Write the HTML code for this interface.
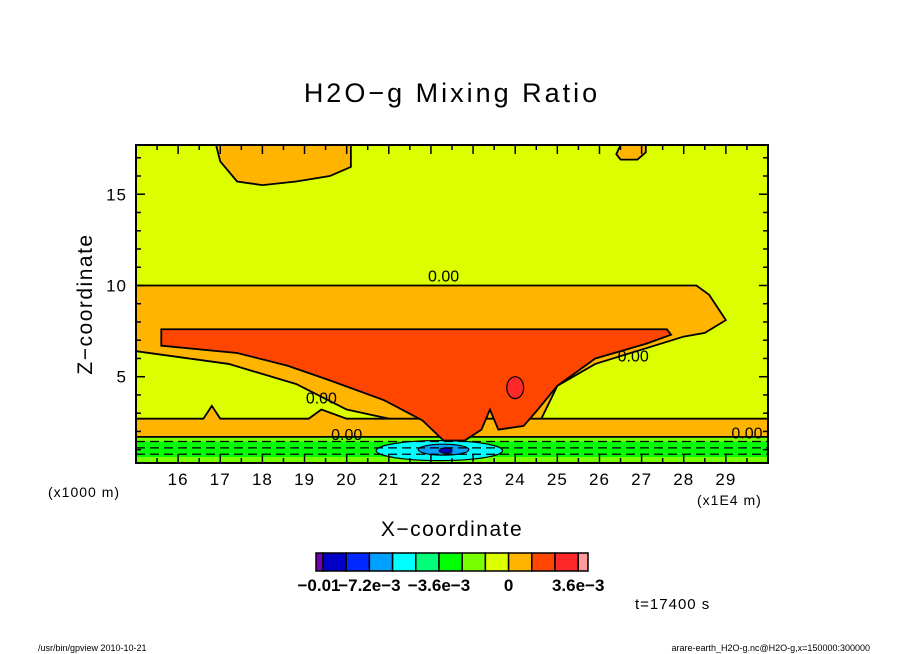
<!DOCTYPE html>
<html><head><meta charset="utf-8"><style>
body{margin:0;background:#fff;}
svg{display:block;font-family:"Liberation Sans",sans-serif;}
</style></head><body>
<svg id="c" width="904" height="654" xmlns="http://www.w3.org/2000/svg">
<text x="452" y="102" text-anchor="middle" font-size="27" letter-spacing="3">H2O−g Mixing Ratio</text>
<text transform="translate(92,304) rotate(-90)" text-anchor="middle" font-size="21" letter-spacing="1.5">Z−coordinate</text>
<text x="452" y="536" text-anchor="middle" font-size="21" letter-spacing="1.5">X−coordinate</text>
<text x="48" y="497" font-size="14" letter-spacing="1">(x1000 m)</text>
<text x="697" y="505" font-size="14" letter-spacing="1">(x1E4 m)</text>
<text x="635" y="609" font-size="15" letter-spacing="1">t=17400 s</text>
<text x="38" y="651" font-size="9">/usr/bin/gpview   2010-10-21</text>
<text x="870" y="651" font-size="9" text-anchor="end">arare-earth_H2O-g.nc@H2O-g,x=150000:300000</text>
<g id="plot"></g>
</svg>
<script>
const xTicks=[16,17,18,19,20,21,22,23,24,25,26,27,28,29];
const zTicks=[5,10,15];
const levelColors=["#7800b4","#0000c8","#0028ff","#00a0ff","#00ffff","#00ff78","#00ff00","#78ff00","#dcff00","#ffb400","#ff4600","#ff2828","#ff9a9a"];
const cbLabels=["-0.01","-7.2e-3","-3.6e-3","0","3.6e-3"];
const cbLabelIdx=[1,3,6,9,12];
// contour regions in data coordinates [x (1E4 m), z (km)]
const orangeLayer=[[15,10],[28.3,10],[28.6,9.5],[29,8.1],[28.5,7.4],[28,7.2],[25.9,5.7],[25,4.5],[24.6,2.6],[21.2,2.6],[20,3.2],[18.8,4.6],[17.2,5.7],[15,6.4]];
const orangeBand=[[15,2.7],[16.6,2.7],[16.8,3.4],[17,2.7],[19.1,2.7],[19.4,3.2],[20,2.7],[30,2.7],[30,1.7],[15,1.7]];
const redOrange=[[15.6,7.6],[27.6,7.6],[27.7,7.3],[27.1,6.8],[25.9,6.0],[25,4.5],[24.5,3.1],[24.2,2.3],[23.6,2.1],[23.4,3.2],[23.2,2.1],[22.8,1.5],[22.3,1.5],[21.8,2.6],[20.9,3.7],[19.6,4.8],[18.6,5.6],[17.4,6.3],[15.6,6.7]];
const orangeTop=[[16.9,17.7],[17.0,16.8],[17.4,15.7],[18.0,15.5],[18.8,15.7],[19.6,16.0],[20.1,16.5],[20.1,17.7]];
const orangeTop2=[[26.5,17.7],[26.4,17.2],[26.5,16.9],[26.9,16.9],[27.1,17.3],[27.1,17.7]];
const redBlob=[24,4.4,0.2,0.6];
const greenBand=[[15,1.6],[30,1.6],[30,0.27],[15,0.27]];
const cyanBlob=[22.2,0.95,1.5,0.55];
const blueBlob=[22.3,1.0,0.6,0.3];
const dBlue=[22.35,0.95,0.15,0.15];
const lineLabels=[[22.3,10.5,"0.00"],[26.8,6.1,"0.00"],[19.4,3.8,"0.00"],[20,1.8,"0.00"],[29.5,1.9,"0.00"]];
const dashZ=[1.45,1.1,0.75];

const X0=136,X1=768,Y0=145,Y1=463,xmin=15,xmax=30,zmin=0.27,zmax=17.7;
const sx=v=>X0+(v-xmin)/(xmax-xmin)*(X1-X0);
const sz=v=>Y1-(v-zmin)/(zmax-zmin)*(Y1-Y0);
const NS="http://www.w3.org/2000/svg";
const g=document.getElementById('plot');
function mk(t,a,p){const e=document.createElementNS(NS,t);for(const k in a)e.setAttribute(k,a[k]);(p||g).appendChild(e);return e;}
const clip=mk('clipPath',{id:'cl'});mk('rect',{x:X0,y:Y0,width:X1-X0,height:Y1-Y0},clip);
const area=mk('g',{'clip-path':'url(#cl)'});


let bg=mk('rect',{x:X0,y:Y0,width:X1-X0,height:Y1-Y0,fill:levelColors[8]},area);


function poly(pts,fill,name,stroke){const e=mk('polygon',{points:pts.map(p=>sx(p[0])+','+sz(p[1])).join(' '),fill:fill,stroke:stroke?'#000':'none','stroke-width':1.8},area);

return e;}
function ell(a,fill,name){const e=mk('ellipse',{cx:sx(a[0]),cy:sz(a[1]),rx:Math.abs(sx(a[2])-sx(0)),ry:Math.abs(sz(a[3])-sz(0)),fill:fill,stroke:'#000','stroke-width':1.2},area);

}
poly(greenBand,levelColors[6],'green-band');
const yg=mk('rect',{x:X0,y:sz(1.75),width:X1-X0,height:sz(1.45)-sz(1.75),fill:levelColors[7]},area);


const yb=mk('rect',{x:X0,y:sz(0.6),width:X1-X0,height:sz(0.27)-sz(0.6),fill:levelColors[7]},area);


ell(cyanBlob,levelColors[4],'cyan-region');
ell(blueBlob,levelColors[3],'lightblue-region');
ell(dBlue,levelColors[1],'blue-core');
poly(orangeLayer,levelColors[9],'orange-layer',true);
poly(orangeBand,levelColors[9],'orange-band',true);
poly(redOrange,levelColors[10],'redorange-core',true);
poly(orangeTop,levelColors[9],'orange-top-blob',true);
poly(orangeTop2,levelColors[9],'orange-top-blob-2',true);
ell(redBlob,levelColors[11],'red-blob');
dashZ.forEach(z=>{const l=mk('line',{x1:X0,x2:X1,y1:sz(z),y2:sz(z),stroke:'#000','stroke-width':1.3,'stroke-dasharray':'9,5'},area);

});
lineLabels.forEach(d=>{const t=mk('text',{x:sx(d[0]),y:sz(d[1])+5,'font-size':16,'text-anchor':'middle'},area);t.textContent=d[2];

});
const fr=mk('rect',{x:X0,y:Y0,width:X1-X0,height:Y1-Y0,fill:'none',stroke:'#000','stroke-width':2});


// ticks
for(let v=15;v<=30.01;v+=0.5){const maj=Math.abs(v-Math.round(v))<0.01;const L=maj?9:5;const x=sx(v);
[[Y1,-L],[Y0,L]].forEach(([y,d])=>{const t=mk('line',{x1:x,x2:x,y1:y,y2:y+d,stroke:'#000','stroke-width':1.5});

});}
for(let v=1;v<=17;v++){const L=v%5==0?9:5;const y=sz(v);
[[X0,L],[X1,-L]].forEach(([x,d])=>{const t=mk('line',{x1:x,x2:x+d,y1:y,y2:y,stroke:'#000','stroke-width':1.5});

});}
xTicks.forEach(v=>{const t=mk('text',{x:sx(v),y:485,'font-size':17,'text-anchor':'middle','letter-spacing':1});t.textContent=v;

});
zTicks.forEach(v=>{const t=mk('text',{x:127,y:sz(v)+6,'font-size':17,'text-anchor':'end','letter-spacing':1});t.textContent=v;

});
// colorbar
const cbX=[316,323];for(let i=1;i<12;i++)cbX.push(323+i*23.2);cbX.push(588);
levelColors.forEach((c,i)=>{const r=mk('rect',{x:cbX[i],y:553,width:cbX[i+1]-cbX[i],height:18,fill:c,stroke:'#000','stroke-width':1.5});

});
cbLabels.forEach((s,i)=>{const t=mk('text',{x:cbX[cbLabelIdx[i]]+(i==0?-4:0),y:591,'font-size':17,'font-weight':'bold','text-anchor':'middle'});t.textContent=s.replace(/-/g,'\u2212');

});
</script>
</body></html>
